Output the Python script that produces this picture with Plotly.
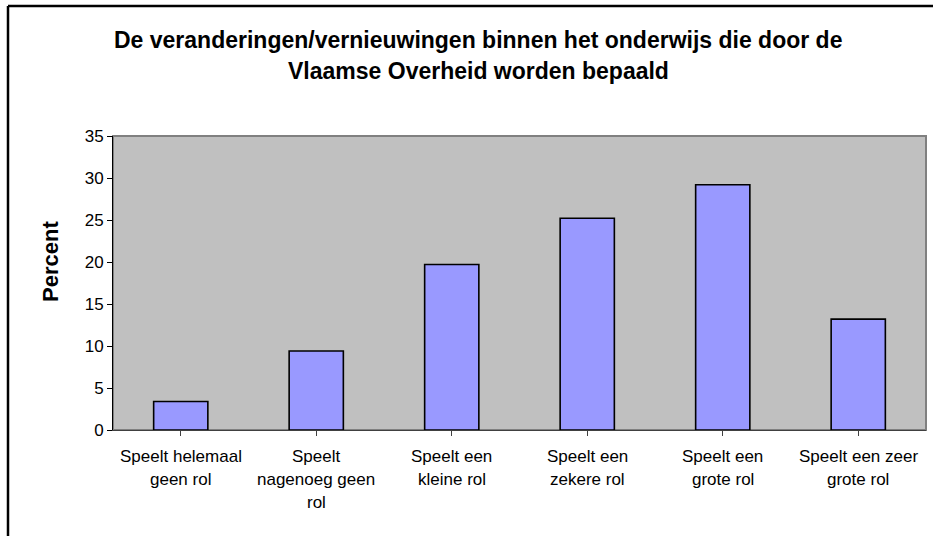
import plotly.graph_objects as go

categories = [
    "Speelt helemaal<br>geen rol",
    "Speelt<br>nagenoeg geen<br>rol",
    "Speelt een<br>kleine rol",
    "Speelt een<br>zekere rol",
    "Speelt een<br>grote rol",
    "Speelt een zeer<br>grote rol",
]
percent = [3.4, 9.4, 19.7, 25.2, 29.2, 13.2]
title_lines = [
    "De veranderingen/vernieuwingen binnen het onderwijs die door de",
    "Vlaamse Overheid worden bepaald",
]
y_title = "Percent"

W, H = 933, 536
PL, PR, PT, PB = 113, 926, 136, 430  # plot box in pixels
L, R, T, B = PL, W - PR, PT, H - PB
PW, PH = PR - PL, PB - PT
FONT = "Liberation Sans, Arial, sans-serif"


def px_x(px):
    return (px - PL) / PW


def px_y(py):
    return (PB - py) / PH


fig = go.Figure(
    go.Bar(
        x=list(range(len(categories))),
        y=percent,
        width=0.4,
        marker=dict(color="#9999FF", line=dict(color="black", width=1.6)),
        hoverinfo="skip",
    )
)

annotations = []
for i, line in enumerate(title_lines):
    annotations.append(dict(
        text="<b>%s</b>" % line, xref="paper", yref="paper",
        x=px_x(478), y=px_y(40 + 31 * i), xanchor="center", yanchor="middle",
        showarrow=False, font=dict(family=FONT, size=23, color="black"),
    ))
annotations.append(dict(
    text="<b>%s</b>" % y_title, xref="paper", yref="paper",
    x=px_x(50), y=px_y(261), xanchor="center", yanchor="middle",
    textangle=-90, showarrow=False,
    font=dict(family=FONT, size=22, color="black"),
))
for ci, cat in enumerate(categories):
    for li, part in enumerate(cat.split("<br>")):
        annotations.append(dict(
            text=part, xref="x", yref="paper",
            x=ci, y=px_y(456 + 23 * li), xanchor="center", yanchor="middle",
            showarrow=False, font=dict(family=FONT, size=17, color="black"),
        ))

shapes = [
    dict(type="rect", xref="paper", yref="paper", x0=0, x1=1, y0=0, y1=1,
         line=dict(color="#808080", width=2), layer="below"),
    dict(type="line", xref="paper", yref="paper",
         x0=px_x(8), x1=px_x(960), y0=px_y(6), y1=px_y(6),
         line=dict(color="black", width=2.5)),
    dict(type="line", xref="paper", yref="paper",
         x0=px_x(8), x1=px_x(8), y0=px_y(6), y1=px_y(560),
         line=dict(color="black", width=2.5)),
]

fig.update_layout(
    width=W, height=H,
    margin=dict(l=L, r=R, t=T, b=B, pad=0),
    paper_bgcolor="white",
    plot_bgcolor="#C0C0C0",
    showlegend=False,
    annotations=annotations,
    shapes=shapes,
    xaxis=dict(
        range=[-0.5, len(categories) - 0.5],
        tickmode="array", tickvals=list(range(len(categories))),
        ticktext=[""] * len(categories),
        tickson="boundaries", ticks="outside", ticklen=5, tickcolor="#404040",
        showline=True, linecolor="#404040", linewidth=1,
        showgrid=False, zeroline=False, fixedrange=True,
    ),
    yaxis=dict(
        range=[0, 35], dtick=5, tick0=0,
        ticks="outside", ticklen=5, tickcolor="black",
        showline=True, linecolor="black", linewidth=1,
        showgrid=False, zeroline=False, fixedrange=True,
        tickfont=dict(family=FONT, size=17, color="black"),
    ),
)

fig.write_html(
    "out.html",
    config={"displayModeBar": False},
    post_script="document.body.style.margin='0';document.body.style.overflow='hidden';",
)
